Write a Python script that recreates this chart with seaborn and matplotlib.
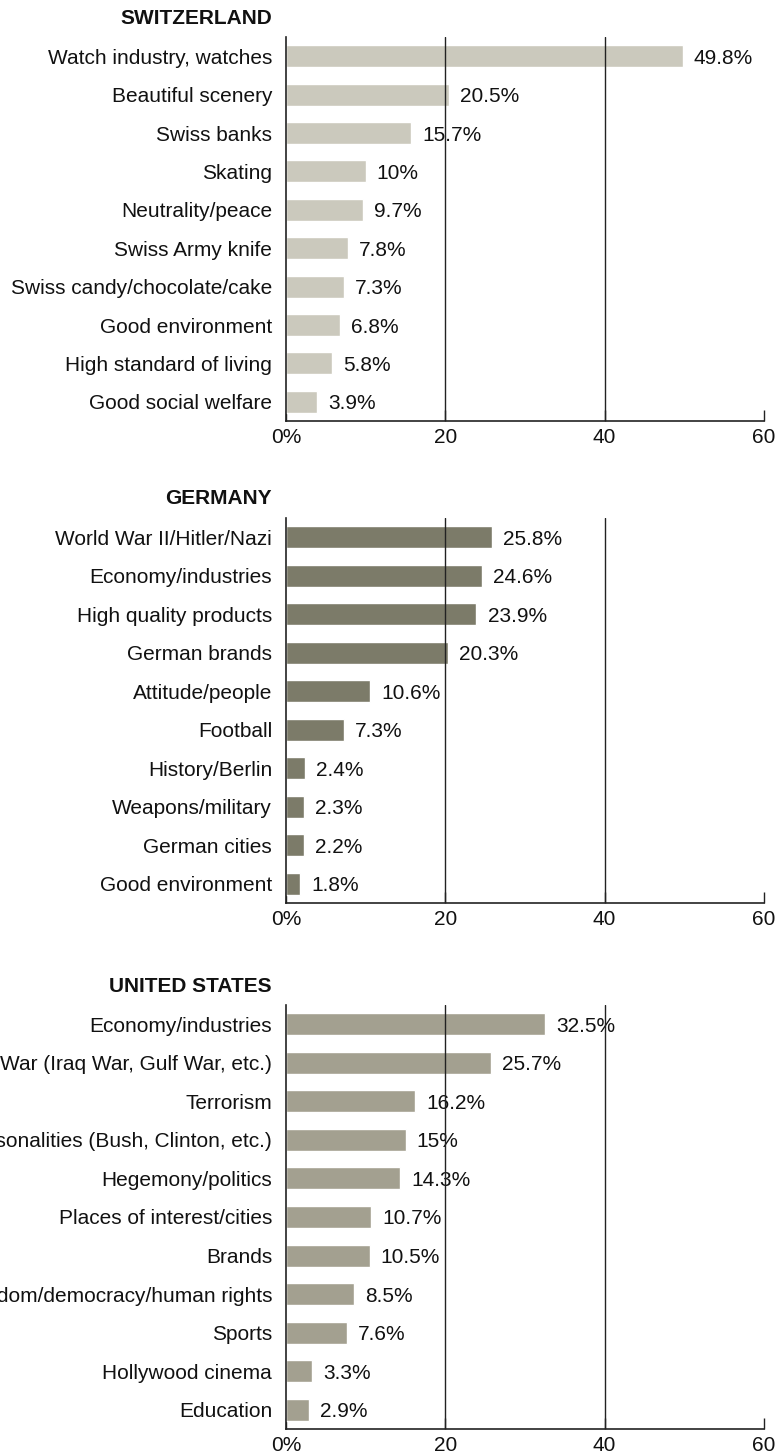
import matplotlib
matplotlib.use("Agg")
import matplotlib.pyplot as plt
import seaborn as sns
import pandas as pd

sns.set_theme(style="white")
plt.rcParams['font.family'] = ['Liberation Sans', 'DejaVu Sans']

ch_labels = ["Watch industry, watches", "Beautiful scenery", "Swiss banks", "Skating",
             "Neutrality/peace", "Swiss Army knife", "Swiss candy/chocolate/cake",
             "Good environment", "High standard of living", "Good social welfare"]
ch_values = [49.8, 20.5, 15.7, 10, 9.7, 7.8, 7.3, 6.8, 5.8, 3.9]

de_labels = ["World War II/Hitler/Nazi", "Economy/industries", "High quality products",
             "German brands", "Attitude/people", "Football", "History/Berlin",
             "Weapons/military", "German cities", "Good environment"]
de_values = [25.8, 24.6, 23.9, 20.3, 10.6, 7.3, 2.4, 2.3, 2.2, 1.8]

us_labels = ["Economy/industries", "War (Iraq War, Gulf War, etc.)", "Terrorism",
             "Personalities (Bush, Clinton, etc.)", "Hegemony/politics",
             "Places of interest/cities", "Brands", "Freedom/democracy/human rights",
             "Sports", "Hollywood cinema", "Education"]
us_values = [32.5, 25.7, 16.2, 15, 14.3, 10.7, 10.5, 8.5, 7.6, 3.3, 2.9]

x_ticks = [0, 20, 40, 60]
x_ticklabels = ["0%", "20", "40", "60"]

panels = [
    ("SWITZERLAND", ch_labels, ch_values, "#CBC9BD", 37, 421),
    ("GERMANY", de_labels, de_values, "#7C7B69", 518, 903),
    ("UNITED STATES", us_labels, us_values, "#A3A090", 1005, 1429),
]

W, H = 782, 1455
fig = plt.figure(figsize=(W / 100, H / 100), dpi=100)
fs = 15
x0, x1 = 286, 764

for title, labels, values, color, top, bottom in panels:
    ax = fig.add_axes([x0 / W, 1 - bottom / H, (x1 - x0) / W, (bottom - top) / H])
    df = pd.DataFrame({"label": labels, "value": values})
    sns.barplot(data=df, x="value", y="label", orient="h", color=color,
                saturation=1, width=0.57, ax=ax, zorder=1)
    ax.set_xlim(0, 60)
    ax.set_ylim(len(labels) - 0.5, -0.5)
    for g in (20, 40):
        ax.axvline(g, color="#222222", lw=1.0, zorder=3)
    for i, v in enumerate(values):
        ax.text(v + 1.4, i, f"{v:g}%", va="center_baseline", ha="left", fontsize=fs,
                color="#111111", zorder=2)
    ax.set_xticks(x_ticks)
    ax.set_xticklabels(x_ticklabels, fontsize=fs, color="#111111")
    ax.tick_params(axis="x", direction="in", length=8, width=1.0, color="#222222",
                   pad=5, bottom=True)
    ax.tick_params(axis="y", length=0, pad=10, labelsize=fs, labelcolor="#111111")
    for lab in ax.get_yticklabels():
        lab.set_verticalalignment("center_baseline")
    ax.set_xlabel("")
    ax.set_ylabel("")
    for s in ("top", "right"):
        ax.spines[s].set_visible(False)
    for s in ("left", "bottom"):
        ax.spines[s].set_color("#222222")
        ax.spines[s].set_linewidth(1.2)
    ax.set_facecolor("white")
    fig.text(272 / W, 1 - (top - 19) / H, title, ha="right", va="center",
             fontsize=fs, fontweight="bold", color="#111111")

fig.savefig("out.png", dpi=100, facecolor="white")
